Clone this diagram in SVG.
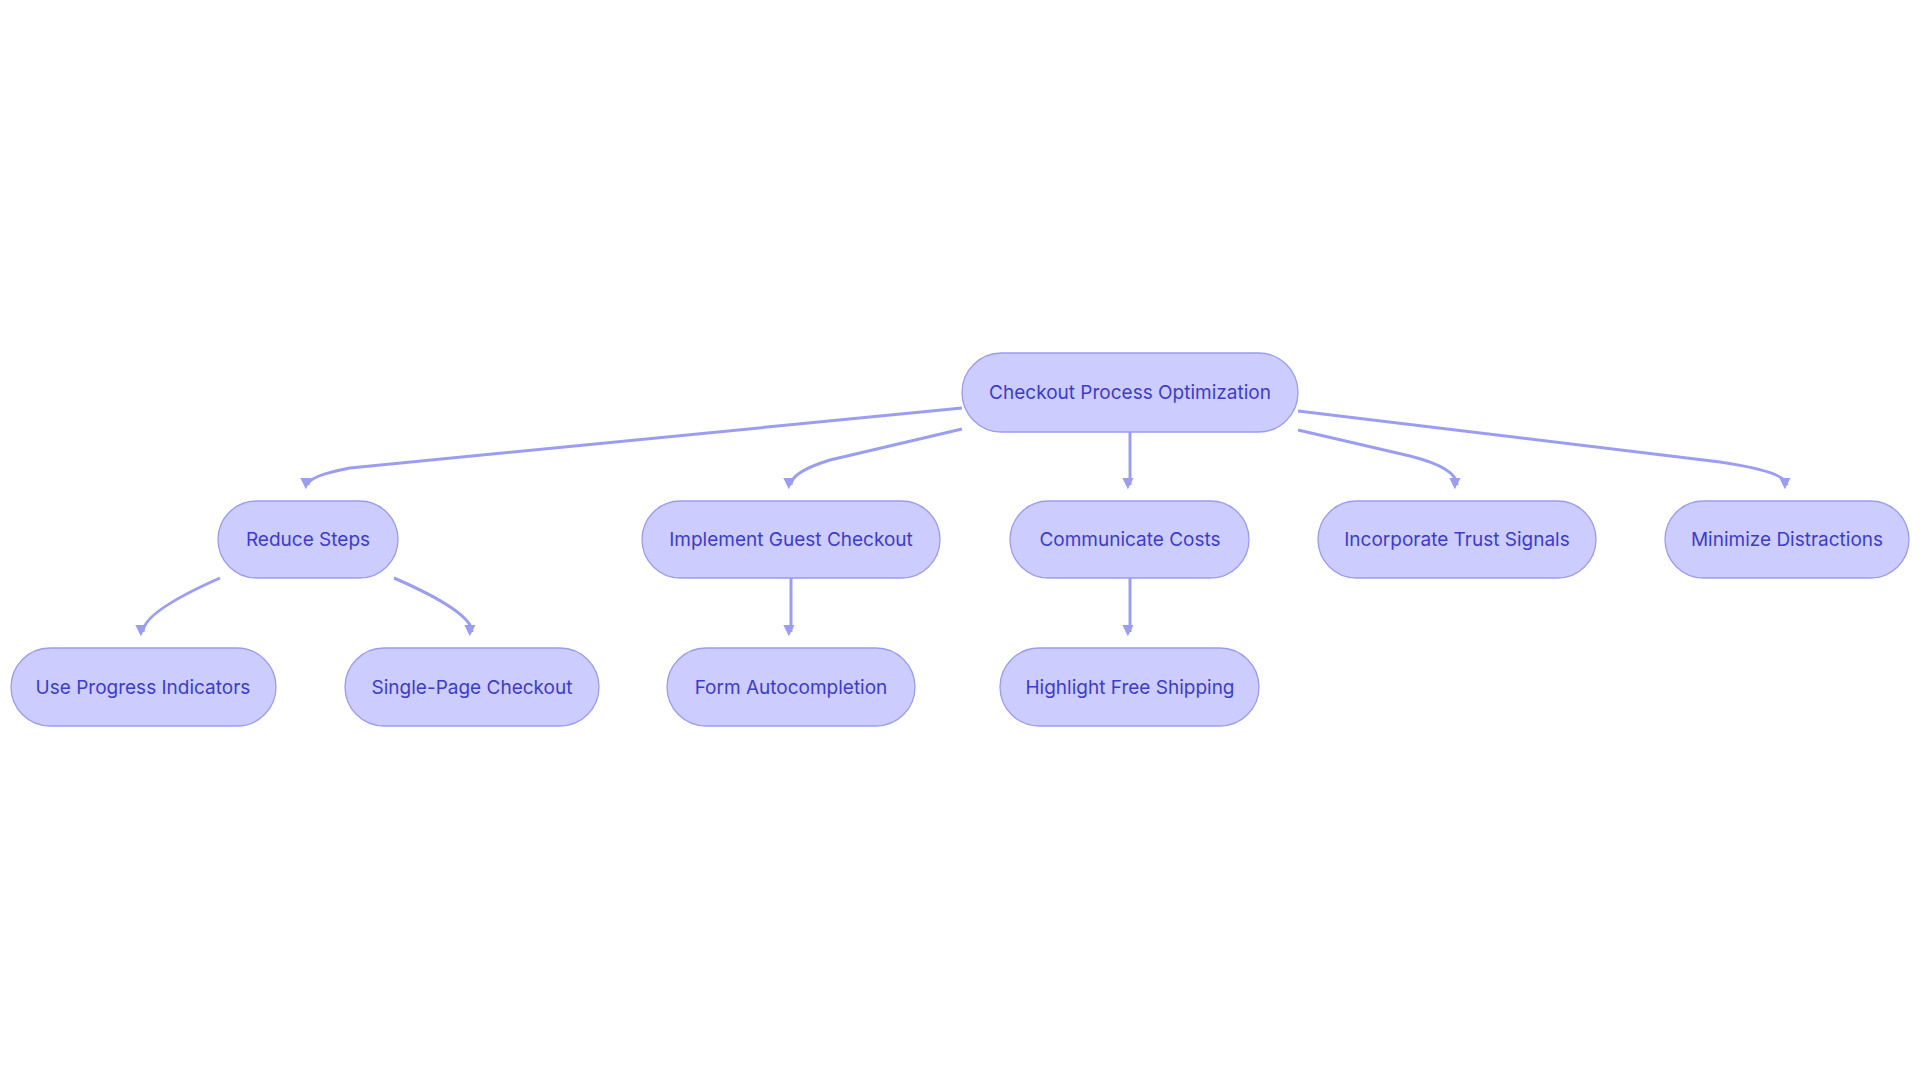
<svg xmlns="http://www.w3.org/2000/svg" width="1920" height="1083" viewBox="0 0 1920 1083">
<defs>
<marker id="arr" viewBox="0 0 10 10" refX="10" refY="5" markerWidth="7" markerHeight="7" markerUnits="userSpaceOnUse" orient="auto" style="overflow:visible"><path d="M0,0 L10,5 L0,10 z" fill="#9b9ef0" transform="scale(1.6)"/></marker>
<style>
.n rect{fill:#ccccff;stroke:#9a9cf0;stroke-width:1.3}
.n text{font-family:Inter,"Noto Sans",sans-serif;font-size:19px;fill:#3c3cc8;text-anchor:middle;dominant-baseline:central}
.e path{fill:none;stroke:#9b9ef0;stroke-width:3}
</style>
</defs>
<rect width="1920" height="1083" fill="#fff"/>
<g class="e">
<path d="M962,408 L350,468 Q308,476 308,485" marker-end="url(#arr)"/>
<path d="M962,429 L830,460 Q791,472 791,485" marker-end="url(#arr)"/>
<path d="M1130,432 L1130,485" marker-end="url(#arr)"/>
<path d="M1298,430 L1410,456 Q1457,468 1457,485" marker-end="url(#arr)"/>
<path d="M1298,411 L1720,462 Q1787,472 1787,485" marker-end="url(#arr)"/>
<path d="M220,578 Q143,612 143,632" marker-end="url(#arr)"/>
<path d="M394,578 Q472,612 472,632" marker-end="url(#arr)"/>
<path d="M791,578 L791,632" marker-end="url(#arr)"/>
<path d="M1130,578 L1130,632" marker-end="url(#arr)"/>
</g>
<g id="root" class="n"><rect x="962" y="353" width="336" height="79" rx="39.5"/><text x="1130" y="392">Checkout Process Optimization</text></g>
<g id="reduce" class="n"><rect x="218" y="501" width="180" height="77" rx="38.5"/><text x="308" y="539">Reduce Steps</text></g>
<g id="guest" class="n"><rect x="642" y="501" width="298" height="77" rx="38.5"/><text x="791" y="539">Implement Guest Checkout</text></g>
<g id="costs" class="n"><rect x="1010" y="501" width="239" height="77" rx="38.5"/><text x="1130" y="539">Communicate Costs</text></g>
<g id="trust" class="n"><rect x="1318" y="501" width="278" height="77" rx="38.5"/><text x="1457" y="539">Incorporate Trust Signals</text></g>
<g id="distract" class="n"><rect x="1665" y="501" width="244" height="77" rx="38.5"/><text x="1787" y="539">Minimize Distractions</text></g>
<g id="progress" class="n"><rect x="11" y="648" width="265" height="78" rx="39"/><text x="143" y="687">Use Progress Indicators</text></g>
<g id="single" class="n"><rect x="345" y="648" width="254" height="78" rx="39"/><text x="472" y="687">Single-Page Checkout</text></g>
<g id="form" class="n"><rect x="667" y="648" width="248" height="78" rx="39"/><text x="791" y="687">Form Autocompletion</text></g>
<g id="ship" class="n"><rect x="1000" y="648" width="259" height="78" rx="39"/><text x="1130" y="687">Highlight Free Shipping</text></g>
</svg>
